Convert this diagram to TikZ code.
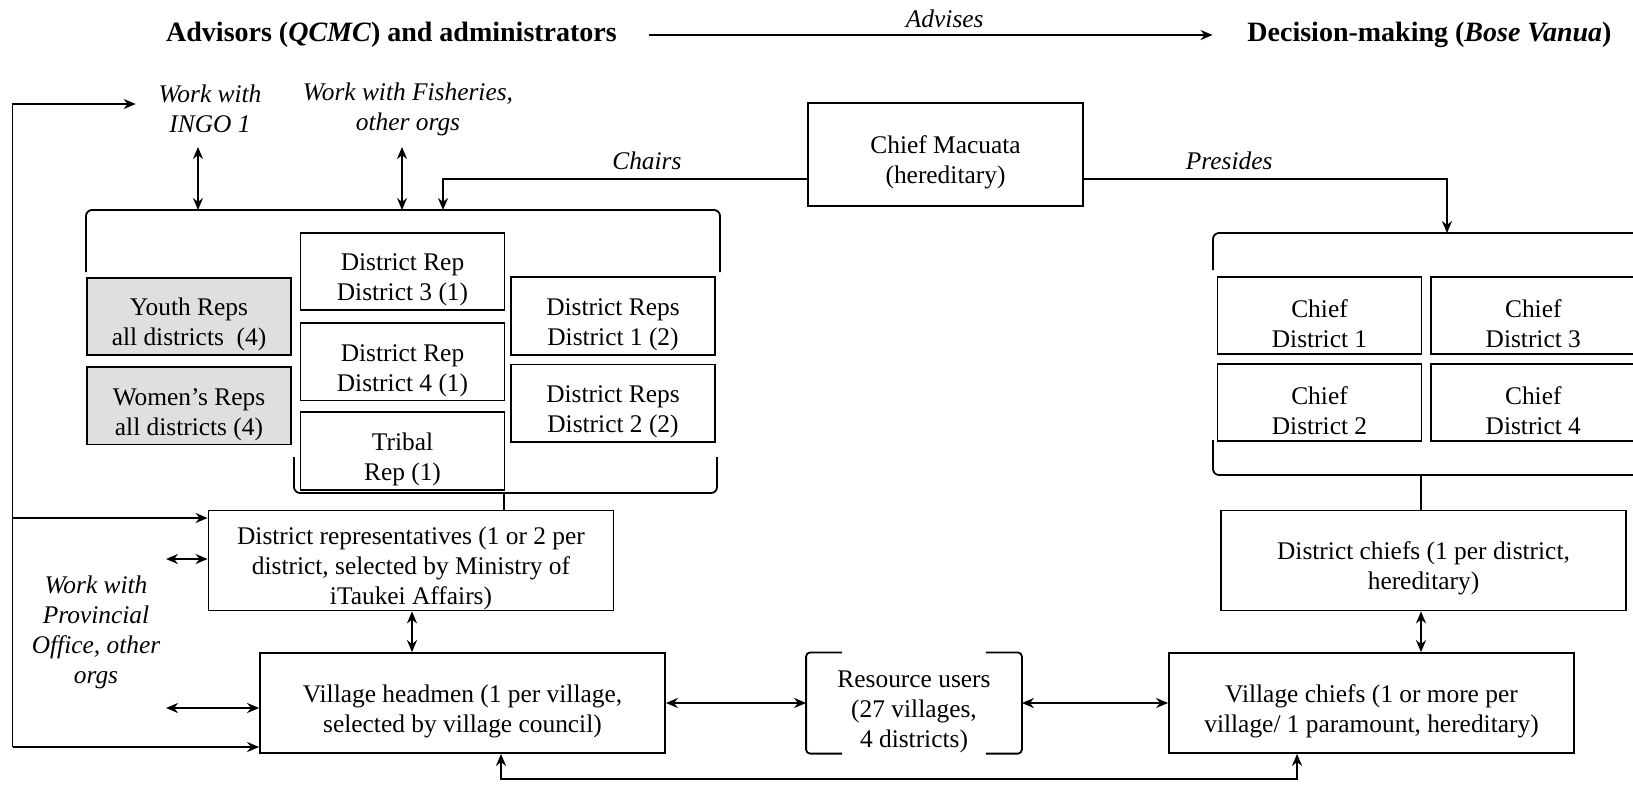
\documentclass[tikz,border=0pt]{standalone}
\usepackage{fontspec}
\setmainfont{Liberation Serif}
\usetikzlibrary{arrows.meta,positioning}

\newcommand{\lowstrut}{\rule{0pt}{17pt}}

\begin{document}
\begin{tikzpicture}[x=0.5pt,y=-0.5pt,line width=0.9pt,>={Stealth[length=6pt,width=5pt]},
  font=\fontsize{12.7}{15}\selectfont]
  \tikzstyle{box}=[draw,align=center,inner sep=2pt,minimum width=102pt,minimum height=38.5pt]
  \tikzstyle{greybox}=[box,fill=gray!25]
  \tikzstyle{wide}=[box,minimum width=202.5pt,minimum height=50pt]
  \tikzstyle{note}=[align=center,inner sep=0pt,font=\fontsize{12.7}{15}\selectfont\itshape]
  \tikzstyle{head}=[inner sep=0pt,font=\fontsize{14}{16}\selectfont\bfseries]

  \useasboundingbox (0,0) rectangle (1633,784);

  % headings
  \node[head] (adv) at (391.5,35) {Advisors (\textit{QCMC}) and administrators};
  \node[head] (dec) at (1429.5,35) {Decision-making (\textit{Bose Vanua})};
  \draw[->,shorten <=15.5pt,shorten >=17pt] (adv) -- node[note,pos=0.52,above=3pt] {Advises} (dec);

  % top row
  \node[note] (ingo) at (210,109) {Work with\\INGO 1};
  \node[note] (fish) at (408,109) {Work with Fisheries,\\other orgs};
  \node[box,minimum width=137.5pt,minimum height=51.5pt] (mac) at (945.5,154.5) {\lowstrut Chief Macuata\\(hereditary)};

  % council members
  \node[greybox] (youth) at (189,316.5) {\lowstrut Youth Reps\\all districts\ \ (4)};
  \node[greybox] (women) [below=5pt of youth] {\lowstrut Women's Reps\\all districts (4)};
  \node[box] (drthree) at (402.5,271.5) {\lowstrut District Rep\\District 3 (1)};
  \node[box] (drfour) [below=5.5pt of drthree] {\lowstrut District Rep\\District 4 (1)};
  \node[box] (tribal) [below=5pt of drfour] {\lowstrut Tribal\\Rep (1)};
  \node[box] (drsone) at (613,316) {\lowstrut District Reps\\District 1 (2)};
  \node[box] (drstwo) [below=4pt of drsone] {\lowstrut District Reps\\District 2 (2)};

  % chiefs
  \node[box] (cdone) at (1319.5,315.5) {\lowstrut Chief\\District 1};
  \node[box] (cdthree) [right=4pt of cdone] {\lowstrut Chief\\District 3};
  \node[box] (cdtwo) [below=4pt of cdone] {\lowstrut Chief\\District 2};
  \node[box] (cdfour) [below=4pt of cdthree] {\lowstrut Chief\\District 4};

  % lower boxes
  \node[wide,inner ysep=0pt] (distreps) at (411,560.5) {\lowstrut District representatives (1 or 2 per\\district, selected by Ministry of\\iTaukei Affairs)};
  \node[wide] (distchief) at (1423.5,560.5) {\lowstrut District chiefs (1 per district,\\hereditary)};
  \node[wide] (vhead) at (462.5,703) {\lowstrut Village headmen (1 per village,\\selected by village council)};
  \node[wide] (vchief) at (1371.5,703) {\lowstrut Village chiefs (1 or more per\\village/ 1 paramount, hereditary)};
  \node[align=center,inner ysep=0pt,minimum width=107pt,minimum height=48pt] (users) at (914,703) {\lowstrut Resource users\\(27 villages,\\4 districts)};
  \node[note] (prov) at (96,632) {Work with\\Provincial\\Office, other\\orgs};

  % brackets
  \draw[rounded corners=3pt] (86,272) -- (86,210) -- (720,210) -- (720,272);
  \draw[rounded corners=3pt] (294,457) -- (294,493) -- (717,493) -- (717,457);
  \draw[rounded corners=3pt] (1213,270) -- (1213,233) -- (1640,233);
  \draw[rounded corners=3pt] (1213,440) -- (1213,475) -- (1640,475);
  \draw[rounded corners=2pt] ([xshift=18pt]users.north west) -- (users.north west)
    -- (users.south west) -- ([xshift=18pt]users.south west);
  \draw[rounded corners=2pt] ([xshift=-18pt]users.north east) -- (users.north east)
    -- (users.south east) -- ([xshift=-18pt]users.south east);

  \coordinate (council) at (504,493);
  \coordinate (chiefs) at (1421,475);
  \coordinate (chairin) at (443,210);
  \coordinate (presin) at (1447,233);
  \coordinate (ingoin) at (198,210);
  \coordinate (fishin) at (402,210);
  \coordinate (loopbl) at (12.5,747);
  \coordinate (looptl) at (12.5,104);
  \coordinate (provup) at (166,559);
  \coordinate (provlow) at (166,708);
  \coordinate (vlink) at (501,779);

  % connectors
  \draw[->] (mac.west |- 0,179) -| (chairin) node[note,pos=0.22,above=4pt] {Chairs};
  \draw[->] (mac.east |- 0,179) -| (presin) node[note,pos=0.2,above=4pt] {Presides};
  \draw[<->] (ingoin |- 0,147) -- (ingoin);
  \draw[<->] (fishin |- 0,147) -- (fishin);
  \draw (council) -- (council |- distreps.north);
  \draw (chiefs) -- (chiefs |- distchief.north);
  \draw[<->] (distreps.south -| 412,0) -- (vhead.north -| 412,0);
  \draw[<->] (distchief.south -| 1421,0) -- (vchief.north -| 1421,0);
  \draw[->] (loopbl) -- (looptl) -- ([xshift=-11pt]ingo.west |- looptl);
  \draw[->] (loopbl |- 0,518) -- (distreps.west |- 0,518);
  \draw[->] (loopbl) -- (vhead.west |- loopbl);
  \draw[<->] (provup) -- (distreps.west |- provup);
  \draw[<->] (provlow) -- (vhead.west |- provlow);
  \draw[<->] (vhead.east) -- (users.west);
  \draw[<->] (users.east) -- (vchief.west);
  \draw[<->] (vhead.south -| vlink) -- (vlink) -| (vchief.south -| 1297,0);
\end{tikzpicture}
\end{document}
